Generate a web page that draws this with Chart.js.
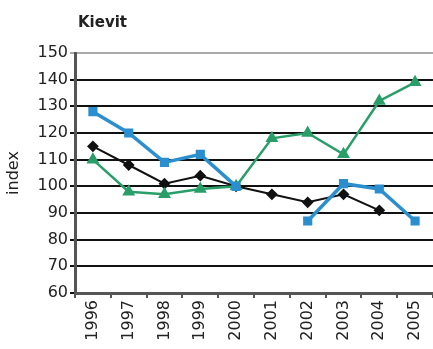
<!DOCTYPE html>
<html>
<head>
<meta charset="utf-8">
<script src="https://cdn.jsdelivr.net/npm/chart.js@4/dist/chart.umd.min.js"></script>
<style>
  html, body { margin: 0; padding: 0; background: #fff; }
  #wrap { width: 433px; height: 349px; }
</style>
</head>
<body>
<div id="wrap"><canvas id="chart" width="433" height="349"></canvas></div>
<script>
// --- data ---
const years = ['1996', '1997', '1998', '1999', '2000', '2001', '2002', '2003', '2004', '2005'];
const blueSeries  = [128, 120, 109, 112, 100, null, 87, 101, 99, 87];
const greenSeries = [110, 98, 97, 99, 100, 118, 120, 112, 132, 139];
const blackSeries = [115, 108, 101, 104, 100, 97, 94, 97, 91, null];
const yTicks = [60, 70, 80, 90, 100, 110, 120, 130, 140, 150];

const chartTitle = 'Kievit';
const yLabel = 'index';
const FONT = "'DejaVu Sans', sans-serif";

// title drawn top-left, above the plot
const titlePlugin = {
    id: 'cornerTitle',
    afterDraw(chart) {
        const c = chart.ctx;
        c.save();
        c.font = 'bold 15px ' + FONT;
        c.fillStyle = '#222';
        c.textBaseline = 'alphabetic';
        c.textAlign = 'left';
        c.fillText(chartTitle, 78, 27);
        c.restore();
    }
};

new Chart(document.getElementById('chart'), {
    type: 'line',
    data: {
        labels: years,
        datasets: [
            { data: blueSeries, borderColor: '#2b8fcf', backgroundColor: '#2b8fcf', borderWidth: 3.5,
              pointStyle: 'rect', pointRadius: 4, order: 1 },
            { data: greenSeries, borderColor: '#2a9e68', backgroundColor: '#2a9e68', borderWidth: 2.5,
              pointStyle: 'triangle', pointRadius: 5, order: 2 },
            { data: blackSeries, borderColor: '#111', backgroundColor: '#111', borderWidth: 2,
              pointStyle: 'rectRot', pointRadius: 4.5, order: 3 }
        ]
    },
    options: {
        responsive: false,
        animation: false,
        // no extra room for the end markers: plot runs to the right edge
        layout: { autoPadding: false, padding: { top: 53, right: 0, bottom: 0, left: 0 } },
        plugins: { legend: { display: false }, tooltip: { enabled: false } },
        elements: { line: { tension: 0 }, point: { borderWidth: 0 } },
        scales: {
            x: {
                offset: true,
                grid: { drawOnChartArea: false, drawTicks: true, tickLength: 5, color: '#555', lineWidth: 2, offset: true },
                border: { color: '#555', width: 3 },
                ticks: { minRotation: 90, maxRotation: 90, padding: 2, color: '#222', font: { family: FONT, size: 16 } },
                afterFit(scale) {
                    scale.height = 56;
                    scale.paddingRight = 0;
                    scale.paddingLeft = 0;
                }
            },
            y: {
                min: 60,
                max: 150,
                afterBuildTicks(scale) { scale.ticks = yTicks.map(v => ({ value: v })); },
                grid: {
                    color: ctx => (ctx.tick && ctx.tick.value === 150) ? '#aaa' : '#111',
                    lineWidth: 2,
                    tickLength: 5
                },
                border: { color: '#555', width: 3 },
                ticks: { padding: 2, color: '#222', font: { family: FONT, size: 16 } },
                title: { display: true, text: yLabel, color: '#222', padding: { top: 4, bottom: 0 }, font: { family: FONT, size: 16 } },
                afterFit(scale) { scale.width = 75; }
            }
        }
    },
    plugins: [titlePlugin]
});
</script>
</body>
</html>
